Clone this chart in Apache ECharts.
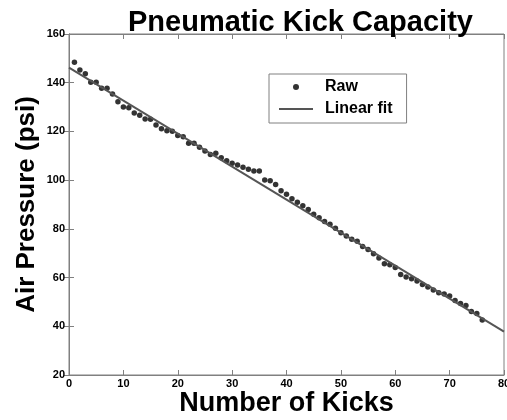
<!DOCTYPE html>
<html>
<head>
<meta charset="utf-8">
<script src="https://cdn.jsdelivr.net/npm/echarts@6/dist/echarts.min.js"></script>
<style>html,body{margin:0;padding:0;background:#fff}#c{width:507px;height:420px}</style>
</head>
<body>
<div id="c"></div>
<script>
var kicks = [];
for (var k = 1; k <= 76; k++) kicks.push(k);
var rawPressure = [
  148.4,145.2,143.7,140.2,140.2,137.7,137.7,135.4,132.2,130.0,
  129.7,127.6,126.6,125.1,125.0,122.6,121.1,120.3,120.1,118.3,
  117.8,115.1,115.1,113.5,112.0,110.5,111.0,109.2,108.0,106.9,
  106.2,105.3,104.5,103.8,103.8,100.1,99.8,98.2,95.6,94.2,
  92.4,90.9,89.5,87.9,86.0,84.6,83.0,81.9,80.2,78.4,
  77.1,75.7,74.9,72.8,71.5,69.8,68.0,65.7,65.3,64.1,
  61.3,60.2,59.5,58.6,57.2,56.1,54.9,53.8,53.3,52.4,
  50.6,49.4,48.5,46.1,45.3,42.6
];
var fitX = [0, 80];
var fitY = [146.2, 37.8];
var xTicks = [0,10,20,30,40,50,60,70,80];
var yTicks = [20,40,60,80,100,120,140,160];

var rawData = kicks.map(function (x, i) { return [x, rawPressure[i]]; });
var fitData = fitX.map(function (x, i) { return [x, fitY[i]]; });

var FONT = 'Liberation Sans, Arial, sans-serif';
var axisGray = '#808080';

var chart = echarts.init(document.getElementById('c'), null, {renderer: 'canvas'});
chart.setOption({
  animation: false,
  backgroundColor: '#fff',
  title: {
    text: 'Pneumatic Kick Capacity',
    left: 123, top: 3,
    textStyle: {fontFamily: FONT, fontWeight: 'bold', fontSize: 29, color: '#000'}
  },
  legend: {
    orient: 'vertical',
    left: 269, top: 74,
    padding: [5, 14, 6, 10],
    itemGap: 6,
    itemWidth: 34, itemHeight: 14,
    borderColor: axisGray, borderWidth: 1,
    backgroundColor: '#fff',
    textStyle: {fontFamily: FONT, fontWeight: 'bold', fontSize: 16, color: '#000', padding: [0,0,0,7]},
    data: [
      {name: 'Raw', icon: 'path://M0,0L0,0M34,14L34,14M14,7a3,3 0 1,0 6,0a3,3 0 1,0 -6,0'},
      {name: 'Linear fit', icon: 'path://M0,0L0,0M34,14L34,14M0,6L34,6L34,8L0,8Z'}
    ]
  },
  grid: {left: 69, right: 3, top: 34, bottom: 45, show: true, borderColor: axisGray, borderWidth: 1, outerBoundsMode: 'none', containLabel: false},
  xAxis: [{
    type: 'value', min: xTicks[0], max: xTicks[xTicks.length-1], interval: 10,
    name: 'Number of Kicks', nameLocation: 'middle', nameGap: 15, nameMoveOverlap: false,
    nameTextStyle: {fontFamily: FONT, fontWeight: 'bold', fontSize: 27, color: '#000'},
    axisLine: {show: true, lineStyle: {color: axisGray}},
    axisTick: {show: true, inside: true, length: 5, lineStyle: {color: axisGray}},
    axisLabel: {fontFamily: FONT, fontWeight: 'bold', fontSize: 11, color: '#000', margin: 3},
    splitLine: {show: false}
  }, {
    type: 'value', position: 'top', min: 0, max: 80, interval: 10,
    axisLine: {show: true, lineStyle: {color: axisGray}},
    axisTick: {show: true, inside: true, length: 5, lineStyle: {color: axisGray}},
    axisLabel: {show: false}, splitLine: {show: false}
  }],
  yAxis: [{
    type: 'value', min: yTicks[0], max: yTicks[yTicks.length-1], interval: 20,
    name: 'Air Pressure (psi)', nameLocation: 'middle', nameGap: 29, nameMoveOverlap: false,
    nameTextStyle: {fontFamily: FONT, fontWeight: 'bold', fontSize: 26, color: '#000'},
    axisLine: {show: true, lineStyle: {color: axisGray}},
    axisTick: {show: true, inside: true, length: 5, lineStyle: {color: axisGray}},
    axisLabel: {fontFamily: FONT, fontWeight: 'bold', fontSize: 11, color: '#000', margin: 4},
    splitLine: {show: false}
  }, {
    type: 'value', position: 'right', min: 20, max: 160, interval: 20,
    axisLine: {show: true, lineStyle: {color: axisGray}},
    axisTick: {show: true, inside: true, length: 5, lineStyle: {color: axisGray}},
    axisLabel: {show: false}, splitLine: {show: false}
  }],
  series: [{
    name: 'Raw', type: 'scatter', data: rawData,
    symbol: 'circle', symbolSize: 5.5,
    itemStyle: {color: '#000'}
  }, {
    name: 'Linear fit', type: 'line', data: fitData,
    symbol: 'none', showSymbol: false,
    lineStyle: {color: '#555', width: 2},
    itemStyle: {color: '#555'}
  }]
});
</script>
</body>
</html>
